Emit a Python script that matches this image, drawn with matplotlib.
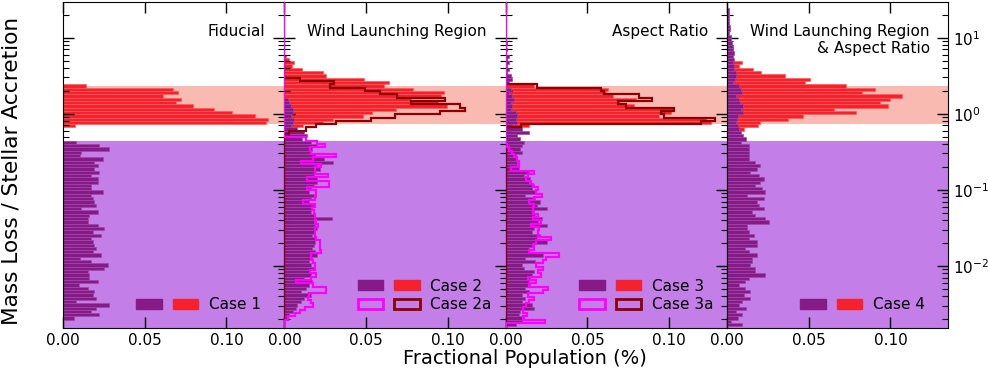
import numpy as np
import matplotlib.pyplot as plt
from matplotlib.patches import Patch
from matplotlib.legend_handler import HandlerTuple

# log-spaced histogram bins, numbered downwards from log10(upper edge of bin 0)
BIN_LOG_TOP = 0.386
BIN_DLOG = 0.0436
FIRST_BIN, LAST_BIN = -26, 73

titles = ["Fiducial", "Wind Launching Region", "Aspect Ratio",
          "Wind Launching Region\n& Aspect Ratio"]
labels_main = ["Case 1", "Case 2", "Case 3", "Case 4"]
labels_alt = [None, "Case 2a", "Case 3a", None]

high_band = (0.74, 2.29)
low_band_top = 0.4415

# each histogram: (first bin, bar lengths going down in accretion ratio)
case1_high = (0, [0.0141, 0.0671, 0.0702, 0.0612, 0.0722, 0.0692, 0.0794, 0.0924,
                  0.1032, 0.1173, 0.1253, 0.1244, 0.0071])
case1_low = (17, [0.0080, 0.0222, 0.0283, 0.0112, 0.0102, 0.0243, 0.0192, 0.0212, 0.0192,
                  0.0222, 0.0171, 0.0212, 0.0212, 0.0171, 0.0171, 0.0243, 0.0171, 0.0181,
                  0.0192, 0.0202, 0.0112, 0.0212, 0.0161, 0.0151, 0.0151, 0.0212, 0.0253,
                  0.0181, 0.0233, 0.0171, 0.0181, 0.0192, 0.0202, 0.0181, 0.0233, 0.0102,
                  0.0171, 0.0275, 0.0253, 0.0151, 0.0161, 0.0161, 0.0212, 0.0100, 0.0151,
                  0.0192, 0.0181, 0.0202, 0.0080, 0.0283, 0.0202, 0.0171, 0.0222, 0.0069])

case2_high = (-9, [0.0010, 0.0026, 0.0057, 0.0049, 0.0108, 0.0237, 0.0257, 0.0487, 0.0639,
                   0.0608, 0.0789, 0.0979, 0.0961, 0.0777, 0.0940, 0.0996, 0.0686, 0.0537,
                   0.0482, 0.0298, 0.0237, 0.0114, 0.0040])
case2_low = (4, [0.002, 0.003, 0.004, 0.005, 0.005, 0.004, 0.006, 0.005, 0.004, 0.008,
                 0.012, 0.014, 0.011, 0.016, 0.020, 0.017, 0.016, 0.019, 0.024, 0.030,
                 0.020, 0.022, 0.019, 0.018, 0.020, 0.020, 0.018, 0.016, 0.015, 0.018,
                 0.016, 0.015, 0.018, 0.017, 0.016, 0.018, 0.029, 0.018, 0.019, 0.020,
                 0.018, 0.017, 0.019, 0.019, 0.018, 0.017, 0.019, 0.020, 0.017, 0.015,
                 0.016, 0.018, 0.015, 0.016, 0.012, 0.017, 0.015, 0.013, 0.010, 0.016,
                 0.012, 0.010, 0.008, 0.007, 0.005, 0.003, 0.002])
case2a_high = (-2, [0.0094, 0.0302, 0.0277, 0.0496, 0.0588, 0.0690, 0.0981, 0.0777,
                    0.1073, 0.1104, 0.0951, 0.0679, 0.0528, 0.0318, 0.0196, 0.0135, 0.0030])
case2a_low = (16, [0.0135, 0.0202, 0.0247, 0.0155, 0.0165, 0.0318, 0.0175, 0.0104, 0.0226,
                   0.0186, 0.0186, 0.0267, 0.0140, 0.0273, 0.0273, 0.0140, 0.0196, 0.0196,
                   0.0186, 0.0114, 0.0186, 0.0169, 0.0180, 0.0186, 0.0186, 0.0196, 0.0206,
                   0.0186, 0.0186, 0.0186, 0.0196, 0.0216, 0.0216, 0.0216, 0.0226, 0.0165,
                   0.0165, 0.0175, 0.0186, 0.0186, 0.0155, 0.0196, 0.0160, 0.0073, 0.0175,
                   0.0257, 0.0257, 0.0150, 0.0145, 0.0160, 0.0175, 0.0124, 0.0094, 0.0063,
                   0.0020])

case3_high = (0, [0.0175, 0.0624, 0.0614, 0.0655, 0.0798, 0.0696, 0.0787, 0.1022, 0.1012,
                  0.0940, 0.1226, 0.1256, 0.0145])
case3_low = (-13, [0.001, 0.0, 0.001, 0.0, 0.002, 0.001, 0.002, 0.001, 0.002, 0.001, 0.003,
                   0.004, 0.002, 0.001, 0.003, 0.002, 0.004, 0.005, 0.003, 0.004, 0.003,
                   0.006, 0.007, 0.006, 0.007, 0.004, 0.010, 0.014, 0.007, 0.009, 0.011,
                   0.010, 0.009, 0.010, 0.006, 0.007, 0.007, 0.007, 0.008, 0.014, 0.011,
                   0.015, 0.014, 0.017, 0.016, 0.018, 0.012, 0.018, 0.021, 0.019, 0.025,
                   0.017, 0.018, 0.022, 0.020, 0.025, 0.017, 0.016, 0.021, 0.019, 0.025,
                   0.017, 0.014, 0.014, 0.023, 0.012, 0.018, 0.010, 0.011, 0.017, 0.016,
                   0.015, 0.014, 0.015, 0.012, 0.014, 0.010, 0.012, 0.010, 0.016, 0.017,
                   0.009, 0.008, 0.011, 0.010, 0.006])
case3a_high = (0, [0.0192, 0.0583, 0.0604, 0.0818, 0.0894, 0.0686, 0.0737, 0.1032, 0.0951,
                   0.0971, 0.1281, 0.1195, 0.0094])
case3a_low = (18, [0.001, 0.002, 0.004, 0.005, 0.007, 0.008, 0.008, 0.003, 0.0175, 0.0135,
                   0.0124, 0.0155, 0.0165, 0.0196, 0.0186, 0.0222, 0.0175, 0.0145, 0.0175,
                   0.0165, 0.0165, 0.0196, 0.0165, 0.0216, 0.0155, 0.0206, 0.0196, 0.0196,
                   0.0277, 0.0186, 0.0165, 0.0175, 0.0145, 0.0328, 0.0247, 0.0226, 0.0186,
                   0.0226, 0.0196, 0.0216, 0.0135, 0.0186, 0.0145, 0.0257, 0.0226, 0.0135,
                   0.0175, 0.0145, 0.0124, 0.0104, 0.0104, 0.0130, 0.0105, 0.0240])

case4_high = (-7, [0.0093, 0.0072, 0.0160, 0.0205, 0.0352, 0.0505, 0.0474, 0.0725, 0.0905,
                   0.0827, 0.1068, 0.0994, 0.0935, 0.0986, 0.0654, 0.0786, 0.0464, 0.0374,
                   0.0201, 0.0189, 0.0103])
case4_low = (-23, [0.0013, 0.0009, 0.0013, 0.0013, 0.0009, 0.0017, 0.0017, 0.0013, 0.0024,
                   0.0024, 0.0030, 0.0034, 0.0034, 0.0044, 0.0034, 0.0044, 0.0034, 0.0044,
                   0.0044, 0.0054, 0.0054, 0.0050, 0.0034, 0.0075, 0.0085, 0.0091, 0.0054,
                   0.0070, 0.0079, 0.0095, 0.0085, 0.0095, 0.0064, 0.0058, 0.0054, 0.0064,
                   0.0075, 0.0085, 0.0095, 0.0115, 0.0085, 0.0132, 0.0132, 0.0132, 0.0132,
                   0.0132, 0.0172, 0.0203, 0.0183, 0.0142, 0.0193, 0.0223, 0.0203, 0.0172,
                   0.0213, 0.0234, 0.0121, 0.0223, 0.0183, 0.0193, 0.0223, 0.0152, 0.0172,
                   0.0234, 0.0254, 0.0121, 0.0121, 0.0132, 0.0162, 0.0132, 0.0183, 0.0183,
                   0.0111, 0.0132, 0.0183, 0.0152, 0.0152, 0.0142, 0.0172, 0.0172, 0.0234,
                   0.0132, 0.0111, 0.0070, 0.0111, 0.0142, 0.0101, 0.0142, 0.0091, 0.0070,
                   0.0115, 0.0054, 0.0091, 0.0064, 0.0024, 0.0091])

panels = [
    (case1_high, case1_low, None, None),
    (case2_high, case2_low, case2a_high, case2a_low),
    (case3_high, case3_low, case3a_high, case3a_low),
    (case4_high, case4_low, None, None),
]

RED = "#f5222e"
PURPLE = "#861a86"
MAGENTA = "#ff00ff"
DARKRED = "#8b0000"

bin_ids = np.arange(FIRST_BIN, LAST_BIN + 2)
edges = 10 ** (BIN_LOG_TOP - BIN_DLOG * bin_ids)  # descending


def full(series):
    start, vals = series
    out = np.zeros(len(edges) - 1)
    i0 = start - FIRST_BIN
    out[i0:i0 + len(vals)] = vals
    return out


plt.rcParams["font.family"] = "DejaVu Sans"
fig, axes = plt.subplots(1, 4, figsize=(9.88, 3.71), dpi=100, sharey=True)
fig.subplots_adjust(left=0.0638, right=0.960, top=0.9933, bottom=0.1146, wspace=0)

lower = edges[1:]
height = edges[:-1] - edges[1:]

for i, (ax, (hi, lo, hi_a, lo_a)) in enumerate(zip(axes, panels)):
    ax.axhspan(high_band[0], high_band[1], color="#f9bab2", lw=0, zorder=0)
    ax.axhspan(1e-4, low_band_top, color="#c47ee8", lw=0, zorder=0)

    ax.barh(lower, full(hi), height=height, align="edge", color=RED,
            edgecolor="#ff5a5a", lw=0.5, zorder=1)
    ax.barh(lower, full(lo), height=height, align="edge", color=PURPLE,
            edgecolor="#a048a8", lw=0.5, zorder=2)
    if hi_a is not None:
        ax.stairs(full(hi_a)[::-1], edges[::-1], orientation="horizontal",
                  baseline=0, color=DARKRED, lw=1.6, zorder=3)
        ax.stairs(full(lo_a)[::-1], edges[::-1], orientation="horizontal",
                  baseline=0, color=MAGENTA, lw=1.6, zorder=4)

    ax.set_yscale("log")
    ax.set_ylim(1.5e-3, 29)
    ax.set_xlim(0, 0.1355)
    ax.set_xticks([0, 0.05, 0.10])
    ax.set_xticklabels(["0.00", "0.05", "0.10"])
    ax.tick_params(which="both", direction="in", top=True, right=True,
                   labelleft=False, labelright=(i == 3), labelsize=11)
    ax.tick_params(which="major", length=8, width=1)
    ax.tick_params(which="minor", length=4, width=0.8)

    ax.text(0.915, 0.935, titles[i], transform=ax.transAxes, ha="right", va="top",
            fontsize=11, multialignment="right")

    handles = [(Patch(color=PURPLE), Patch(color=RED))]
    labels = [labels_main[i]]
    if labels_alt[i] is not None:
        handles.append((Patch(facecolor="none", edgecolor=MAGENTA, lw=2),
                        Patch(facecolor="none", edgecolor=DARKRED, lw=2)))
        labels.append(labels_alt[i])
    ax.legend(handles, labels, loc="lower left", bbox_to_anchor=(0.3315, 0.05),
              frameon=False, fontsize=11, borderpad=0, borderaxespad=0,
              handlelength=4.05, handleheight=0.6, handletextpad=0.7,
              labelspacing=0.23,
              handler_map={tuple: HandlerTuple(ndivide=None, pad=0.72)})

fig.text(0.012, 0.539, "Mass Loss / Stellar Accretion", rotation=90,
         ha="center", va="center", fontsize=15.6)
fig.text(0.531, 0.035, "Fractional Population (%)", ha="center", va="center",
         fontsize=14)

fig.savefig("out.png", dpi=100)
